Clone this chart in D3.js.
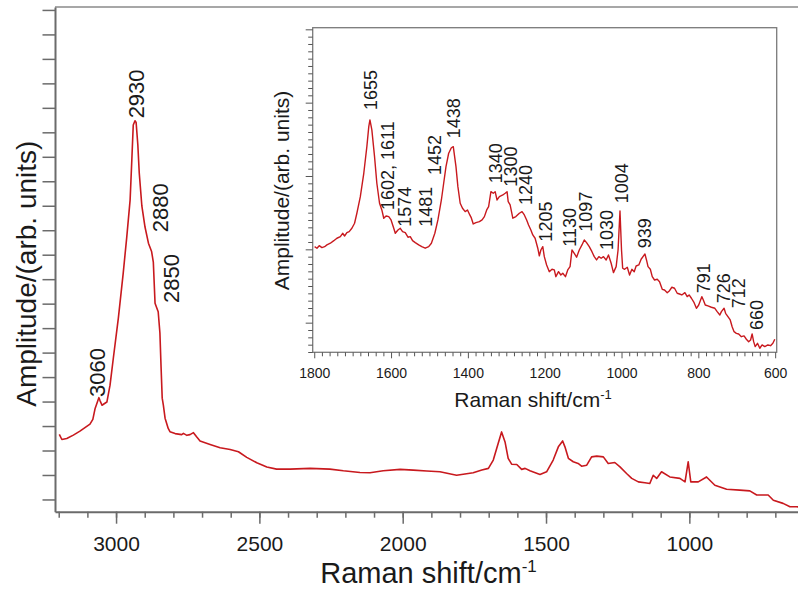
<!DOCTYPE html>
<html>
<head>
<meta charset="utf-8">
<script src="https://cdn.jsdelivr.net/npm/d3@7/dist/d3.min.js"></script>
<style>
  html, body { margin: 0; padding: 0; background: #fff; }
  svg { display: block; }
  text { font-family: "Liberation Sans", Arial, Helvetica, sans-serif; fill: #1a1a1a; }
</style>
</head>
<body>
<svg id="chart" width="798" height="590"></svg>
<script>
// ---- Full Raman spectrum (wavenumber / cm-1, amplitude in arb. units) ----
const mainShift = [3198, 3189, 3172, 3149, 3126, 3091, 3081, 3073, 3060, 3056, 3049, 3040, 3032, 3021, 3009,
  2992, 2975, 2963, 2951, 2945, 2940, 2934, 2930, 2924, 2919, 2910, 2899, 2887, 2876, 2870, 2864, 2853, 2847,
  2843, 2839, 2835, 2829, 2818, 2812, 2794, 2771, 2765, 2753, 2742, 2730, 2719, 2707, 2672, 2637, 2602, 2573,
  2544, 2509, 2474, 2440, 2393, 2323, 2254, 2207, 2149, 2114, 2068, 2009, 1963, 1916, 1870, 1812, 1754, 1724,
  1701, 1684, 1667, 1655, 1643, 1632, 1620, 1602, 1585, 1573, 1556, 1521, 1498, 1475, 1457, 1442, 1434, 1422,
  1405, 1388, 1376, 1358, 1341, 1323, 1300, 1283, 1260, 1242, 1219, 1201, 1178, 1155, 1138, 1126, 1114, 1097,
  1068, 1033, 1015, 1004, 995, 969, 940, 911, 870, 824, 789, 765, 725, 707, 673, 649, 626, 612];
const mainAmp = [2.66, 2.45, 2.49, 2.63, 2.79, 3.08, 3.27, 3.72, 4.16, 4.04, 3.85, 3.92, 3.98, 4.67, 5.82,
  7.41, 9.25, 10.68, 12.23, 13.87, 15.30, 15.47, 15.40, 14.48, 13.33, 11.99, 11.13, 10.47, 10.13, 9.70, 8.02, 7.67, 6.80,
  5.42, 4.14, 3.85, 3.32, 2.90, 2.77, 2.69, 2.65, 2.70, 2.62, 2.65, 2.73, 2.56, 2.39, 2.25, 2.11, 2.04, 1.95,
  1.72, 1.50, 1.33, 1.24, 1.24, 1.27, 1.24, 1.17, 1.10, 1.09, 1.17, 1.23, 1.20, 1.16, 1.13, 0.99, 1.09, 1.20,
  1.27, 1.61, 2.29, 2.76, 2.35, 1.68, 1.44, 1.43, 1.23, 1.27, 1.17, 1.02, 1.13, 1.61, 2.15, 2.39, 2.15, 1.68,
  1.54, 1.47, 1.36, 1.40, 1.74, 1.77, 1.74, 1.47, 1.51, 1.33, 1.06, 0.86, 0.72, 0.68, 0.65, 0.99, 0.86, 1.13,
  0.92, 0.86, 0.72, 1.54, 0.72, 0.72, 0.92, 0.58, 0.42, 0.38, 0.35, 0.18, 0.18, -0.03, -0.16, -0.30, -0.30, -0.31];

// ---- Fingerprint region, 1800-600 cm-1 (inset) ----
const insetShift = [1799, 1793, 1787, 1780, 1773, 1767, 1758, 1749, 1741, 1732, 1726, 1721, 1715, 1709, 1702,
  1695, 1689, 1680, 1671, 1663, 1658, 1655, 1650, 1643, 1637, 1630, 1624, 1619, 1613, 1606, 1600, 1593, 1589,
  1582, 1576, 1570, 1563, 1556, 1550, 1544, 1537, 1528, 1520, 1511, 1502, 1495, 1486, 1478, 1469, 1463, 1457,
  1450, 1443, 1438, 1431, 1426, 1420, 1414, 1407, 1401, 1395, 1391, 1386, 1379, 1370, 1363, 1357, 1351, 1346,
  1340, 1334, 1329, 1324, 1318, 1309, 1303, 1298, 1295, 1290, 1283, 1275, 1266, 1259, 1253, 1247, 1242, 1236,
  1231, 1225, 1218, 1214, 1210, 1205, 1201, 1195, 1188, 1181, 1175, 1171, 1164, 1158, 1153, 1146, 1140, 1134,
  1129, 1123, 1117, 1110, 1103, 1097, 1091, 1084, 1077, 1071, 1065, 1059, 1053, 1047, 1040, 1034, 1027, 1021,
  1014, 1009, 1004, 1000, 997, 992, 985, 979, 973, 967, 962, 955, 949, 939, 935, 931, 925, 920, 914, 907, 901,
  894, 888, 881, 875, 869, 862, 855, 849, 843, 835, 829, 824, 818, 811, 805, 799, 791, 787, 782, 775, 766, 757,
  751, 744, 740, 733, 729, 723, 717, 712, 707, 701, 695, 688, 681, 675, 669, 664, 660, 656, 652, 646, 640, 634,
  627, 619, 612, 606, 601];
const insetAmp = [10.36, 10.15, 10.50, 10.23, 10.36, 10.60, 10.83, 11.18, 11.51, 11.73, 12.19, 11.82, 12.27, 12.41, 12.87,
  13.56, 14.92, 17.18, 20.37, 24.00, 26.73, 27.64, 26.28, 22.64, 19.01, 16.28, 15.37, 14.24, 14.55, 14.46, 14.01, 12.87, 12.19,
  12.64, 12.87, 12.41, 12.27, 11.65, 11.73, 11.18, 10.91, 10.60, 10.36, 10.15, 10.36, 10.83, 12.19, 14.01, 16.73, 19.01, 21.27,
  23.10, 23.85, 24.00, 21.27, 18.55, 16.28, 15.60, 15.14, 15.37, 14.69, 14.28, 13.46, 13.64, 13.77, 14.01, 14.46, 15.37, 15.82,
  17.86, 17.65, 17.86, 16.73, 17.18, 17.41, 17.65, 17.86, 16.50, 16.05, 14.24, 14.46, 14.92, 15.14, 14.69, 14.01, 13.32, 12.64,
  11.96, 11.51, 10.15, 9.10, 9.91, 10.36, 9.00, 7.87, 6.95, 7.28, 7.19, 6.27, 6.95, 6.50, 6.74, 6.27, 7.19, 7.64,
  9.91, 9.46, 8.92, 9.91, 10.60, 11.28, 10.91, 10.36, 9.68, 9.00, 8.55, 9.00, 8.78, 9.00, 8.55, 9.23, 8.10, 6.82,
  7.64, 9.91, 15.23, 9.91, 7.42, 7.28, 7.55, 6.50, 7.28, 6.95, 7.73, 7.87, 8.65, 9.37, 8.55, 7.64, 7.28, 6.27, 5.82, 5.92, 5.59,
  4.55, 4.46, 4.09, 4.36, 4.83, 4.69, 4.01, 3.91, 3.78, 4.09, 3.55, 3.78, 3.33, 2.73, 1.96, 2.41, 3.55, 3.10, 2.41, 2.28, 2.10, 1.96,
  1.50, 1.05, 1.50, 1.96, 1.28, 0.82, 0.37, -0.55, -1.23, -1.45, -1.54, -1.91, -1.81, -2.26, -2.59, -2.36, -1.54, -2.59, -3.27, -2.81, -3.49, -3.04,
  -3.27, -3.04, -3.14, -2.81, -2.26];

// ---- Peak annotations: text and where each label starts (shift, amplitude) ----
const mainPeakText  = ["3060", "2930", "2880", "2850"];
const mainPeakShift = [3067, 2931, 2845, 2808];
const mainPeakAmp   = [4.19, 15.57, 10.92, 8.03];

const insetPeakText  = ["1655", "1602, 1611", "1574", "1481", "1452", "1438", "1340", "1300", "1240", "1205",
  "1130", "1097", "1030", "1004", "939", "791", "726", "712", "660"];
const insetPeakShift = [1654, 1609, 1565, 1509, 1487, 1438, 1329, 1288, 1249, 1199,
  1136, 1094, 1040, 1001, 939, 787, 734, 695, 649];
const insetPeakAmp   = [29.0, 15.37, 13.09, 13.09, 20.14, 25.15, 19.01, 18.55, 16.05, 11.05,
  10.36, 12.41, 9.91, 16.28, 10.15, 4.01, 2.65, 1.96, -1.0];

// ---- Axis tick values ----
const mainXMajorTicks = [3000, 2500, 2000, 1500, 1000];
const mainXMinorTicks = d3.range(700, 3201, 100);
const mainYTicks = d3.range(0, 21, 1);
const insetXMajorTicks = [1800, 1600, 1400, 1200, 1000, 800, 600];
const insetXMinorTicks = d3.range(600, 1801, 20);
const insetYMajorTicks = [0, 10, 20, 30, 40];
const insetYMinorTicks = d3.range(-4, 41, 1);

const svg = d3.select("#chart");
const curveColor = "#c8191e";
const axisColor = "#6b6b6b";

// ================= Main panel =================
const M = { left: 55, right: 804, top: 7, bottom: 511.7 };
const xMain = d3.scaleLinear().domain([3213, 600]).range([M.left, M.right]);
const yMain = d3.scaleLinear().domain([-0.5, 20.12]).range([M.bottom, M.top]);

const mainG = svg.append("g");

// top border
mainG.append("line")
  .attr("x1", M.left).attr("x2", M.right).attr("y1", M.top).attr("y2", M.top)
  .attr("stroke", "#8a8a8a").attr("stroke-width", 1.5);

// left axis (unlabelled ticks)
const yAxisMain = mainG.append("g").attr("transform", `translate(${M.left},0)`)
  .call(d3.axisLeft(yMain).tickValues(mainYTicks).tickSize(12.5).tickSizeOuter(0).tickFormat(""));
yAxisMain.select(".domain").attr("stroke", axisColor).attr("stroke-width", 2);
yAxisMain.selectAll(".tick line").attr("stroke", axisColor).attr("stroke-width", 1.5);

// bottom axis: minor then major ticks
const xMinorG = mainG.append("g").attr("transform", `translate(0,${M.bottom})`)
  .call(d3.axisBottom(xMain).tickValues(mainXMinorTicks).tickSize(6).tickSizeOuter(0).tickFormat(""));
xMinorG.select(".domain").attr("stroke", axisColor).attr("stroke-width", 2);
xMinorG.selectAll(".tick line").attr("stroke", axisColor).attr("stroke-width", 1.5);

const xMajorG = mainG.append("g").attr("transform", `translate(0,${M.bottom})`)
  .call(d3.axisBottom(xMain).tickValues(mainXMajorTicks).tickSize(12).tickSizeOuter(0).tickFormat(d3.format("d")));
xMajorG.select(".domain").remove();
xMajorG.selectAll(".tick line").attr("stroke", axisColor).attr("stroke-width", 1.5);
xMajorG.selectAll(".tick text")
  .attr("y", 39).attr("dy", null)
  .style("font-size", "21px").style("fill", "#1a1a1a")
  .style("font-family", "'Liberation Sans', Arial, sans-serif");

// spectrum
const mainLine = d3.line().x(i => xMain(mainShift[i])).y(i => yMain(mainAmp[i]));
mainG.append("path")
  .attr("d", mainLine(d3.range(mainShift.length)))
  .attr("fill", "none").attr("stroke", curveColor).attr("stroke-width", 1.6)
  .attr("stroke-linejoin", "round");

// peak labels
mainG.selectAll("text.peak").data(d3.range(mainPeakText.length)).join("text")
  .attr("class", "peak")
  .attr("transform", i => `translate(${xMain(mainPeakShift[i])},${yMain(mainPeakAmp[i])}) rotate(-90)`)
  .attr("dy", "0.36em")
  .style("font-size", "22px")
  .text(i => mainPeakText[i]);

// axis titles
const mainXTitle = mainG.append("text")
  .attr("x", 428.5).attr("y", 583).attr("text-anchor", "middle").style("font-size", "29px");
mainXTitle.append("tspan").text("Raman shift/cm");
mainXTitle.append("tspan").attr("dy", -11).style("font-size", "17px").text("-1");

mainG.append("text")
  .attr("transform", "translate(35.5,273.7) rotate(-90)")
  .attr("text-anchor", "middle").style("font-size", "28px")
  .text("Amplitude/(arb. units)");

// ================= Inset panel =================
const I = { left: 312.7, right: 776.7, top: 27.7, bottom: 352.3 };
const xIn = d3.scaleLinear().domain([1804, 596]).range([I.left, I.right]);
const yIn = d3.scaleLinear().domain([-4.04, 40.22]).range([I.bottom, I.top]);

const inG = svg.append("g");
inG.append("rect")
  .attr("x", I.left).attr("y", I.top)
  .attr("width", I.right - I.left).attr("height", I.bottom - I.top)
  .attr("fill", "#fff").attr("stroke", "#7a7a7a").attr("stroke-width", 1.3);

function styleTicks(g) {
  g.select(".domain").remove();
  g.selectAll(".tick line").attr("stroke", "#555").attr("stroke-width", 1);
}

// left ticks
inG.append("g").attr("transform", `translate(${I.left},0)`)
  .call(d3.axisLeft(yIn).tickValues(insetYMinorTicks.filter(v => v % 10 !== 0)).tickSize(4.5).tickFormat(""))
  .call(styleTicks);
inG.append("g").attr("transform", `translate(${I.left},0)`)
  .call(d3.axisLeft(yIn).tickValues(insetYMajorTicks).tickSize(7).tickFormat(""))
  .call(styleTicks);

// bottom ticks
inG.append("g").attr("transform", `translate(0,${I.bottom})`)
  .call(d3.axisBottom(xIn).tickValues(insetXMinorTicks.filter(v => v % 200 !== 0)).tickSize(4).tickFormat(""))
  .call(styleTicks);
const inXMajor = inG.append("g").attr("transform", `translate(0,${I.bottom})`)
  .call(d3.axisBottom(xIn).tickValues(insetXMajorTicks).tickSize(6).tickFormat(d3.format("d")))
  .call(styleTicks);
inXMajor.selectAll(".tick text")
  .attr("y", 26).attr("dy", null)
  .style("font-size", "14px").style("fill", "#1a1a1a")
  .style("font-family", "'Liberation Sans', Arial, sans-serif");

// inset spectrum
const inLine = d3.line().x(i => xIn(insetShift[i])).y(i => yIn(insetAmp[i]));
inG.append("path")
  .attr("d", inLine(d3.range(insetShift.length)))
  .attr("fill", "none").attr("stroke", curveColor).attr("stroke-width", 1.4)
  .attr("stroke-linejoin", "round");

// inset peak labels
inG.selectAll("text.peak").data(d3.range(insetPeakText.length)).join("text")
  .attr("class", "peak")
  .attr("transform", i => `translate(${xIn(insetPeakShift[i])},${yIn(insetPeakAmp[i])}) rotate(-90)`)
  .attr("dy", "0.36em")
  .style("font-size", "18px")
  .text(i => insetPeakText[i]);

// inset titles
const inXTitle = inG.append("text")
  .attr("x", 533).attr("y", 407.3).attr("text-anchor", "middle").style("font-size", "21px");
inXTitle.append("tspan").text("Raman shift/cm");
inXTitle.append("tspan").attr("dy", -8).style("font-size", "13px").text("-1");

inG.append("text")
  .attr("transform", "translate(289,190.5) rotate(-90)")
  .attr("text-anchor", "middle").style("font-size", "21px")
  .text("Amplitude/(arb. units)");
</script>
</body>
</html>
